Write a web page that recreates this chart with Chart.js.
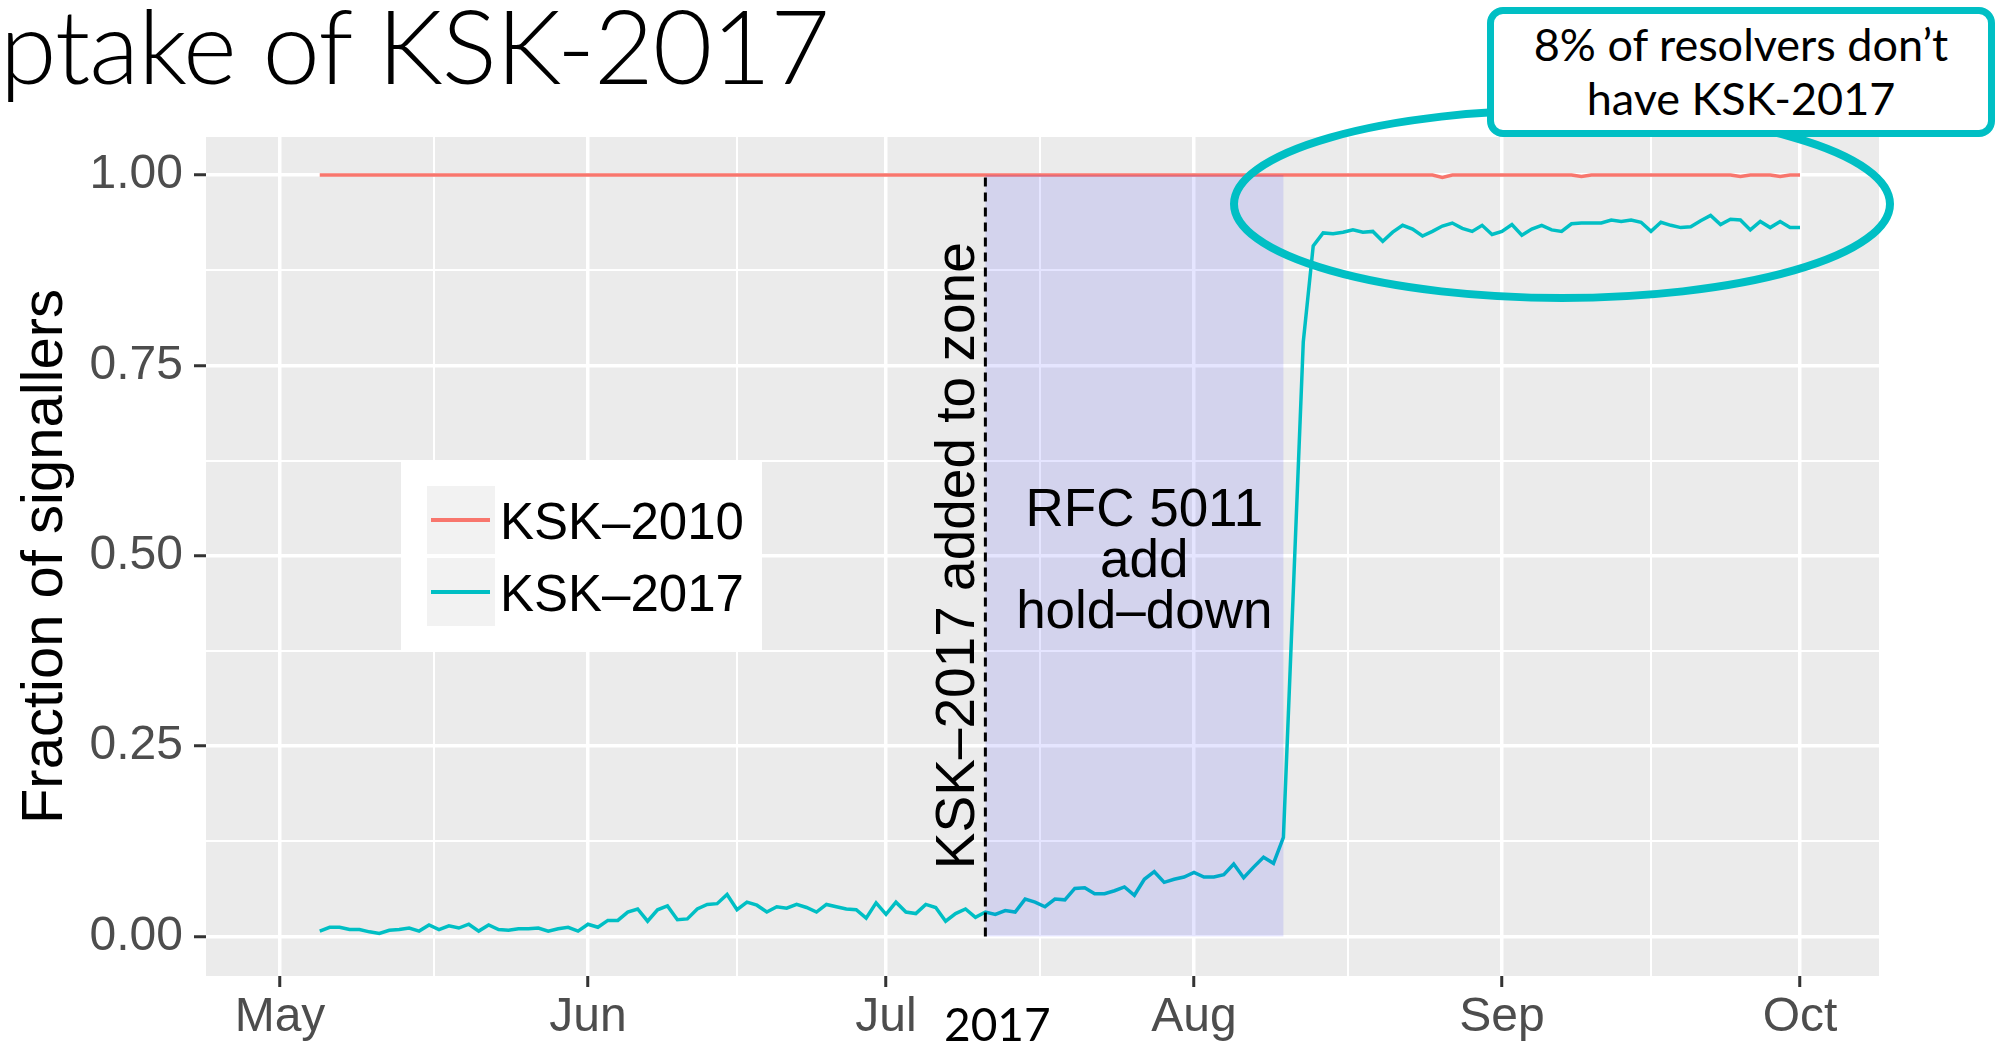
<!DOCTYPE html>
<html>
<head>
<meta charset="utf-8">
<title>Uptake of KSK-2017</title>
<script src="https://cdn.jsdelivr.net/npm/chart.js@4.4.0/dist/chart.umd.min.js"></script>
<style>
  body { margin: 0; background: #fff; width: 1998px; height: 1045px; overflow: hidden; position: relative; }
  #wrap { position: absolute; left: 0; top: 0; width: 1998px; height: 1045px; }
  #title { position: absolute; right: 1169px; top: -7px; font: 300 103px Lato, sans-serif; letter-spacing: -1px;
           line-height: 1; white-space: nowrap; color: #000; }
  #callout { position: absolute; left: 1487px; top: 7px; width: 508px; height: 130px; box-sizing: border-box;
             border: 7px solid #00BFC4; border-radius: 16px; background: #fff; color: #000;
             font: 400 45px Lato, sans-serif; line-height: 54px; text-align: center; padding-top: 3px; }
  #yearLabel { position: absolute; left: 944px; top: 1001px; width: 100px; text-align: center;
               font: 400 46px Lato, sans-serif; line-height: 1; color: #000; }
</style>
</head>
<body>
<div id="wrap"><canvas id="myChart" width="1998" height="1045"></canvas></div>
<div id="title">Uptake of KSK-2017</div>
<div id="callout">8% of resolvers don’t<br>have KSK-2017</div>
<div id="yearLabel">2017</div>

<script>
// one value per day, first day below
var startDate = "2017-05-05";
var seriesNames = ["KSK\u20132010", "KSK\u20132017"];

var monthLabels = ["May", "Jun", "Jul", "Aug", "Sep", "Oct"];
var monthStarts = ["2017-05-01", "2017-06-01", "2017-07-01", "2017-08-01", "2017-09-01", "2017-10-01"];
var yTicks = [0, 0.25, 0.5, 0.75, 1];

// KSK-2010 stays at (almost) 1 the whole time
var ksk2010 = [
  1, 1, 1, 1, 1, 1, 1, 1, 1, 1,
  1, 1, 1, 1, 1, 1, 1, 1, 1, 1,
  1, 1, 1, 1, 1, 1, 1, 1, 1, 1,
  1, 1, 1, 1, 1, 1, 1, 1, 1, 1,
  1, 1, 1, 1, 1, 1, 1, 1, 1, 1,
  1, 1, 1, 1, 1, 1, 1, 1, 1, 1,
  1, 1, 1, 1, 1, 1, 1, 1, 1, 1,
  1, 1, 1, 1, 1, 1, 1, 1, 1, 1,
  1, 1, 1, 1, 1, 1, 1, 1, 1, 1,
  1, 1, 1, 1, 1, 1, 1, 1, 1, 1,
  1, 1, 1, 1, 1, 1, 1, 1, 1, 1,
  1, 1, 1, 0.997, 1, 1, 1, 1, 1, 1,
  1, 1, 1, 1, 1, 1, 1, 0.998, 1, 1,
  1, 1, 1, 1, 1, 1, 1, 1, 1, 1,
  1, 1, 1, 0.998, 1, 1, 1, 0.998, 1, 1
];

var ksk2017 = [
  0.007, 0.012, 0.012, 0.009, 0.009, 0.006, 0.004, 0.008, 0.009, 0.011,
  0.007, 0.015, 0.009, 0.014, 0.011, 0.016, 0.007, 0.015, 0.009, 0.008,
  0.010, 0.010, 0.011, 0.007, 0.010, 0.012, 0.007, 0.016, 0.012, 0.021,
  0.021, 0.032, 0.036, 0.020, 0.035, 0.040, 0.022, 0.023, 0.036, 0.042,
  0.043, 0.055, 0.035, 0.045, 0.041, 0.032, 0.039, 0.037, 0.042, 0.038,
  0.032, 0.042, 0.039, 0.036, 0.035, 0.024, 0.044, 0.029, 0.045, 0.032,
  0.030, 0.042, 0.038, 0.020, 0.030, 0.036, 0.025, 0.032, 0.029, 0.034,
  0.032, 0.049, 0.045, 0.039, 0.049, 0.048, 0.063, 0.064, 0.056, 0.056,
  0.060, 0.065, 0.054, 0.075, 0.085, 0.071, 0.075, 0.078, 0.084, 0.078,
  0.078, 0.081, 0.095, 0.077, 0.091, 0.104, 0.096, 0.130, 0.455, 0.781,
  0.907, 0.924, 0.923, 0.925, 0.928, 0.925, 0.926, 0.913, 0.925, 0.934,
  0.929, 0.920, 0.926, 0.933, 0.937, 0.930, 0.926, 0.934, 0.922, 0.926,
  0.935, 0.921, 0.929, 0.934, 0.928, 0.926, 0.936, 0.937, 0.937, 0.937,
  0.941, 0.939, 0.941, 0.938, 0.926, 0.938, 0.934, 0.931, 0.932, 0.940,
  0.947, 0.935, 0.942, 0.941, 0.928, 0.939, 0.931, 0.939, 0.931, 0.931
];

// annotations
var keyAdded = "2017-07-11";
var holdDownEnd = "2017-08-10";
var rotatedNote = "KSK\u20132017 added to zone";
var holdDownNote = ["RFC 5011", "add", "hold\u2013down"];

var colors = ["#F8766D", "#00BFC4"];

function dayOf(d) {
  return (Date.parse(d) - Date.parse("2017-05-01")) / 86400000;
}

function toPoints(values) {
  var first = dayOf(startDate);
  return values.map(function(v, i) { return { x: first + i, y: v }; });
}

var xMajor = monthStarts.map(dayOf);
var xMinor = [];
for (var i = 0; i < xMajor.length - 1; i++) xMinor.push((xMajor[i] + xMajor[i + 1]) / 2);
var yMinor = [];
for (var j = 0; j < yTicks.length - 1; j++) yMinor.push((yTicks[j] + yTicks[j + 1]) / 2);

function isIn(list, v) {
  for (var k = 0; k < list.length; k++) if (Math.abs(list[k] - v) < 1e-6) return k;
  return -1;
}

var tickFont = { family: "'Liberation Sans', Arial, sans-serif", size: 48 };

var ggPanel = {
  id: "ggPanel",
  beforeDraw: function(chart) {
    var a = chart.chartArea, c = chart.ctx;
    c.save();
    c.fillStyle = "#EBEBEB";
    c.fillRect(a.left, a.top, a.right - a.left, a.bottom - a.top);
    c.restore();
  },
  afterDatasetsDraw: function(chart) {
    var c = chart.ctx, xs = chart.scales.x, ys = chart.scales.y, a = chart.chartArea;
    var x0 = xs.getPixelForValue(dayOf(keyAdded));
    var x1 = xs.getPixelForValue(dayOf(holdDownEnd));
    var yTop = ys.getPixelForValue(1), yBot = ys.getPixelForValue(0);

    c.save();
    // hold-down period
    c.fillStyle = "rgba(0, 0, 255, 0.1)";
    c.fillRect(x0, yTop, x1 - x0, yBot - yTop);

    // key added line
    c.strokeStyle = "#000";
    c.lineWidth = 3;
    c.setLineDash([9, 6]);
    c.beginPath();
    c.moveTo(x0, yBot);
    c.lineTo(x0, yTop);
    c.stroke();
    c.setLineDash([]);

    c.fillStyle = "#000";
    c.font = "55px 'Liberation Sans', Arial, sans-serif";
    c.save();
    c.translate(x0 - 11, ys.getPixelForValue(0.5));
    c.rotate(-Math.PI / 2);
    c.textAlign = "center";
    c.textBaseline = "alphabetic";
    c.fillText(rotatedNote, 0, 0);
    c.restore();

    c.font = "53px 'Liberation Sans', Arial, sans-serif";
    c.textAlign = "center";
    c.textBaseline = "alphabetic";
    var cx = xs.getPixelForValue(dayOf("2017-07-27"));
    var by = ys.getPixelForValue(0.539);
    holdDownNote.forEach(function(t, n) { c.fillText(t, cx, by + n * 51); });

    // legend
    var lx = a.left + 195, ly = a.top + 325;
    c.fillStyle = "#FFFFFF";
    c.fillRect(lx, ly, 361, 188);
    c.font = "51px 'Liberation Sans', Arial, sans-serif";
    c.textAlign = "left";
    seriesNames.forEach(function(name, n) {
      var ky = ly + 24 + n * 72;
      c.fillStyle = "#F2F2F2";
      c.fillRect(lx + 26, ky, 68, 68);
      c.strokeStyle = colors[n];
      c.lineWidth = 4;
      c.beginPath();
      c.moveTo(lx + 30, ky + 34);
      c.lineTo(lx + 89, ky + 34);
      c.stroke();
      c.fillStyle = "#000";
      c.fillText(name, lx + 99, ky + 53);
    });
    c.restore();
  },
  afterDraw: function(chart) {
    var c = chart.ctx;
    c.save();
    c.strokeStyle = "#00BFC4";
    c.lineWidth = 8;
    c.beginPath();
    c.ellipse(1562, 204, 328, 94, 0, 0, Math.PI * 2);
    c.stroke();
    c.restore();
  }
};

var ctx = document.getElementById("myChart");
var myChart = new Chart(ctx, {
  type: "line",
  data: {
    datasets: [{
      label: seriesNames[0],
      data: toPoints(ksk2010),
      borderColor: colors[0],
      borderWidth: 3.5,
      pointRadius: 0,
      tension: 0
    }, {
      label: seriesNames[1],
      data: toPoints(ksk2017),
      borderColor: colors[1],
      borderWidth: 3.5,
      pointRadius: 0,
      tension: 0
    }]
  },
  options: {
    responsive: false,
    animation: false,
    events: [],
    layout: { padding: { left: 0, top: 137, right: 119, bottom: 0 } },
    plugins: { legend: { display: false }, tooltip: { enabled: false } },
    scales: {
      x: {
        type: "linear",
        min: -7.45,
        max: 160.95,
        afterBuildTicks: function(scale) {
          scale.ticks = xMajor.concat(xMinor).sort(function(p, q) { return p - q; })
            .map(function(v) { return { value: v }; });
        },
        afterFit: function(scale) { scale.height = 69; },
        border: { display: false },
        grid: {
          color: "#FFFFFF",
          lineWidth: function(c) { return c.tick && isIn(xMajor, c.tick.value) >= 0 ? 3.5 : 2; },
          drawTicks: true,
          tickLength: 11,
          tickWidth: 3,
          tickColor: function(c) { return c.tick && isIn(xMajor, c.tick.value) >= 0 ? "#333333" : "rgba(0,0,0,0)"; }
        },
        ticks: {
          autoSkip: false,
          maxRotation: 0,
          padding: 2,
          color: "#4D4D4D",
          font: tickFont,
          callback: function(v) {
            var k = isIn(xMajor, v);
            return k >= 0 ? monthLabels[k] : "";
          }
        }
      },
      y: {
        min: -0.052,
        max: 1.05,
        afterBuildTicks: function(scale) {
          scale.ticks = yTicks.concat(yMinor).sort(function(p, q) { return p - q; })
            .map(function(v) { return { value: v }; });
        },
        afterFit: function(scale) { scale.width = 206; },
        border: { display: false },
        grid: {
          color: "#FFFFFF",
          lineWidth: function(c) { return c.tick && isIn(yTicks, c.tick.value) >= 0 ? 3.5 : 2; },
          drawTicks: true,
          tickLength: 12,
          tickWidth: 3,
          tickColor: function(c) { return c.tick && isIn(yTicks, c.tick.value) >= 0 ? "#333333" : "rgba(0,0,0,0)"; }
        },
        ticks: {
          autoSkip: false,
          padding: 11,
          color: "#4D4D4D",
          font: tickFont,
          callback: function(v) {
            return isIn(yTicks, v) >= 0 ? v.toFixed(2) : "";
          }
        },
        title: {
          display: true,
          text: "Fraction of signallers",
          color: "#000",
          font: { family: "'Liberation Sans', Arial, sans-serif", size: 58 },
          padding: { top: 11, bottom: 0 }
        }
      }
    }
  },
  plugins: [ggPanel]
});
</script>
</body>
</html>
